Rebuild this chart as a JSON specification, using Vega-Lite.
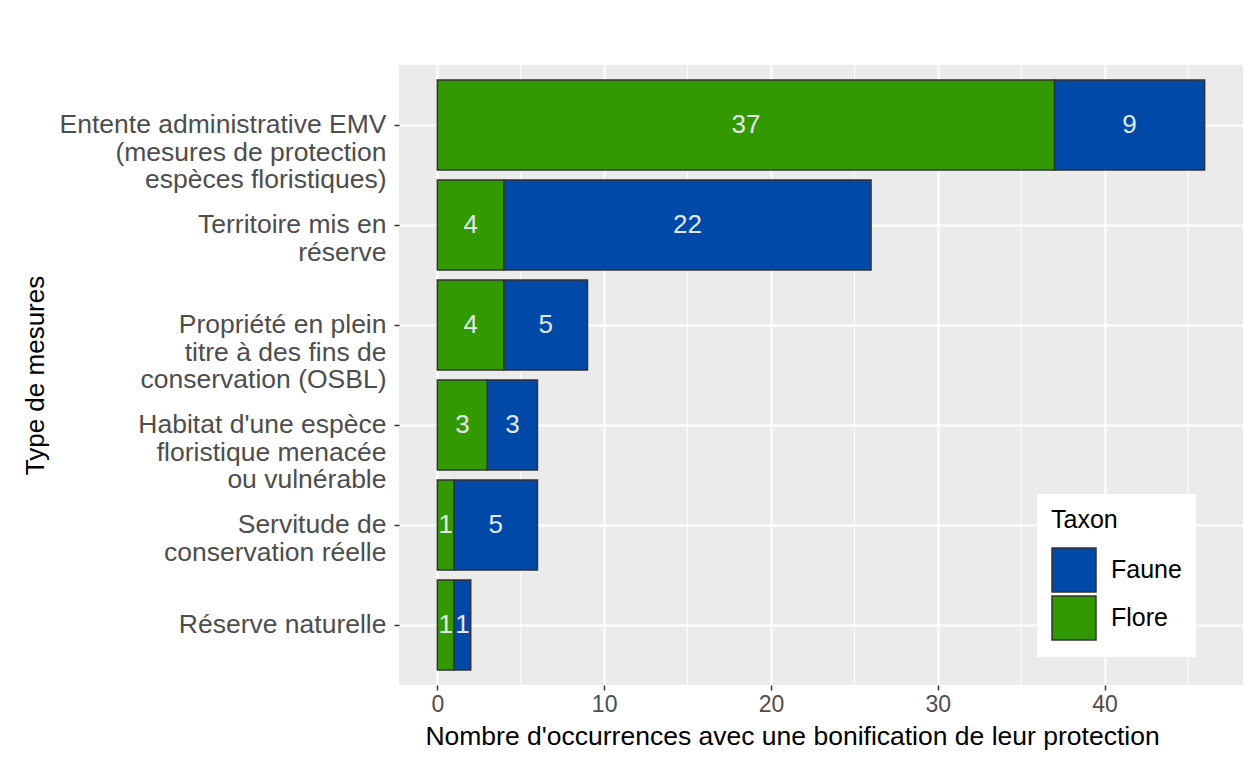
{
  "$schema": "https://vega.github.io/schema/vega-lite/v6.json",
  "width": 844,
  "height": 620,
  "autosize": "none",
  "padding": {"left": 399, "top": 65, "right": 7, "bottom": 78},
  "background": "white",
  "config": {
    "view": {"fill": "#ebebeb", "stroke": null},
    "font": "Liberation Sans"
  },
  "datasets": {
    "main": [
      {"type": "Entente administrative EMV\n(mesures de protection\nespèces floristiques)", "taxon": "Flore", "value": 37},
      {"type": "Entente administrative EMV\n(mesures de protection\nespèces floristiques)", "taxon": "Faune", "value": 9},
      {"type": "Territoire mis en\nréserve", "taxon": "Flore", "value": 4},
      {"type": "Territoire mis en\nréserve", "taxon": "Faune", "value": 22},
      {"type": "Propriété en plein\ntitre à des fins de\nconservation (OSBL)", "taxon": "Flore", "value": 4},
      {"type": "Propriété en plein\ntitre à des fins de\nconservation (OSBL)", "taxon": "Faune", "value": 5},
      {"type": "Habitat d'une espèce\nfloristique menacée\nou vulnérable", "taxon": "Flore", "value": 3},
      {"type": "Habitat d'une espèce\nfloristique menacée\nou vulnérable", "taxon": "Faune", "value": 3},
      {"type": "Servitude de\nconservation réelle", "taxon": "Flore", "value": 1},
      {"type": "Servitude de\nconservation réelle", "taxon": "Faune", "value": 5},
      {"type": "Réserve naturelle", "taxon": "Flore", "value": 1},
      {"type": "Réserve naturelle", "taxon": "Faune", "value": 1}
    ],
    "minor": [{"v": 5}, {"v": 15}, {"v": 25}, {"v": 35}, {"v": 45}]
  },
  "layer": [
    {
      "data": {"name": "minor"},
      "mark": {"type": "rule", "color": "white", "strokeWidth": 1},
      "encoding": {
        "x": {
          "field": "v", "type": "quantitative",
          "scale": {"domain": [-2.3, 48.3], "nice": false, "zero": false},
          "axis": {
            "title": "Nombre d'occurrences avec une bonification de leur protection",
            "titleFontSize": 26.5, "titleFontWeight": "normal", "titleColor": "black", "titlePadding": 7,
            "titleX": 393, "titleAlign": "center",
            "values": [0, 10, 20, 30, 40],
            "labelFontSize": 23, "labelColor": "#4d4d4d", "labelPadding": 3,
            "domain": false, "ticks": true, "tickColor": "#333333", "tickSize": 5, "tickWidth": 1.5,
            "grid": true, "gridColor": "white", "gridWidth": 2
          }
        }
      }
    },
    {
      "data": {"name": "main"},
      "mark": {"type": "bar", "stroke": "#333333", "strokeWidth": 1.5},
      "encoding": {
        "y": {
          "field": "type", "type": "nominal",
          "sort": null,
          "scale": {"paddingInner": 0.1, "paddingOuter": 0.15},
          "axis": {
            "title": "Type de mesures",
            "titleFontSize": 26, "titleFontWeight": "normal", "titleColor": "black",
            "titleX": -364, "titleY": 310, "titleAngle": 270, "titleAlign": "center", "titleBaseline": "middle",
            "labelExpr": "split(datum.label, '\\n')",
            "labelFontSize": 26.5, "labelColor": "#4d4d4d", "labelLineHeight": 27.5, "labelPadding": 8,
            "labelLimit": 400,
            "domain": false, "ticks": true, "tickColor": "#333333", "tickSize": 5, "tickWidth": 1.5,
            "grid": true, "gridColor": "white", "gridWidth": 2, "bandPosition": 0.5
          }
        },
        "x": {
          "aggregate": "sum", "field": "value", "type": "quantitative", "stack": "zero",
          "title": "Nombre d'occurrences avec une bonification de leur protection"
        },
        "color": {
          "field": "taxon", "type": "nominal",
          "scale": {"domain": ["Faune", "Flore"], "range": ["#0049a8", "#339900"]},
          "legend": {
            "title": "Taxon", "orient": "none", "legendX": 638, "legendY": 429,
            "fillColor": "white", "padding": 14,
            "titleFontSize": 25, "titleFontWeight": "normal", "titleColor": "black", "titlePadding": 14,
            "labelFontSize": 25, "labelColor": "black", "labelOffset": 14,
            "symbolType": "square", "symbolSize": 1936, "symbolStrokeColor": "#333333", "symbolStrokeWidth": 1.5,
            "symbolOpacity": 1, "rowPadding": -4
          }
        },
        "order": {"field": "taxon", "sort": "descending"}
      }
    },
    {
      "data": {"name": "main"},
      "transform": [
        {"stack": "value", "groupby": ["type"], "sort": [{"field": "taxon", "order": "descending"}], "as": ["x0", "x1"]},
        {"fold": ["x0", "x1"], "as": ["edge", "pos"]}
      ],
      "mark": {"type": "text", "fontSize": 26, "color": "#e3e8ee", "align": "center", "baseline": "middle"},
      "encoding": {
        "y": {"field": "type", "type": "nominal", "sort": null},
        "x": {"aggregate": "mean", "field": "pos", "type": "quantitative"},
        "detail": {"field": "taxon"},
        "text": {"aggregate": "max", "field": "value", "type": "quantitative"}
      }
    }
  ]
}
